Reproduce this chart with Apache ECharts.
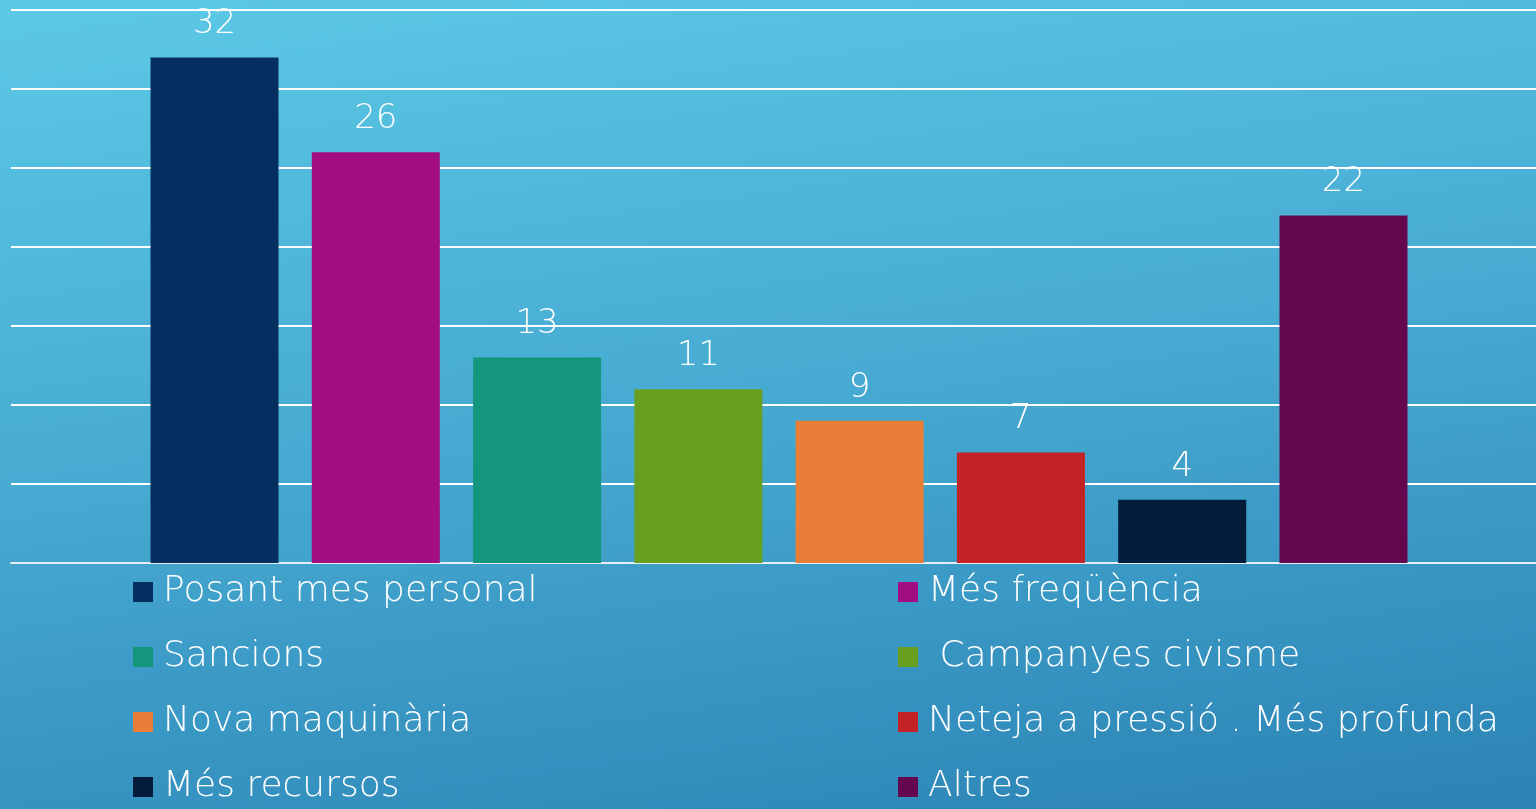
<!DOCTYPE html>
<html>
<head>
<meta charset="utf-8">
<script src="https://cdn.jsdelivr.net/npm/echarts@6/dist/echarts.min.js"></script>
<style>
  html, body { margin: 0; padding: 0; }
  body {
    width: 1536px; height: 809px; overflow: hidden;
    background: linear-gradient(172deg, #5cc9e6 0%, #46a9d1 50%, #2b83b4 100%);
  }
  #main { width: 1536px; height: 809px; }
</style>
</head>
<body>
<div id="main"></div>
<script>
// dades
const names = [
  "Posant mes personal",
  "Més freqüència",
  "Sancions",
  " Campanyes civisme",
  "Nova maquinària",
  "Neteja a pressió . Més profunda",
  "Més recursos",
  "Altres"
];
const values = [32, 26, 13, 11, 9, 7, 4, 22];
const colors = ["#052f60", "#a20d82", "#14967c", "#679f1f", "#e87e38", "#c42224", "#021c3a", "#63074e"];

const font = "DejaVu Sans";

let chart = echarts.init(document.getElementById("main"));

let series = names.map((n, i) => ({
  name: n,
  type: "bar",
  data: [values[i]],
  barWidth: 128,
  barGap: "26%",
  itemStyle: { color: colors[i] },
  label: {
    show: true,
    position: "top",
    distance: 16,
    color: "#fff",
    fontFamily: font,
    fontWeight: 200,
    fontSize: 34,
  },
}));

const legendText = {
  color: "#fff",
  fontFamily: font,
  fontWeight: 200,
  fontSize: 36,
  lineHeight: 38,
  padding: [0, 0, 0, 5],
};

let option = {
  animation: false,
  grid: { left: 11, right: -11, top: 10, bottom: 246, outerBoundsMode: "none" },
  xAxis: {
    type: "category",
    data: [""],
    axisLine: { lineStyle: { color: "#e6eef4", width: 2 } },
    axisTick: { show: false },
    axisLabel: { show: false },
  },
  yAxis: {
    type: "value",
    min: 0,
    max: 35,
    interval: 5,
    axisLine: { show: false },
    axisLabel: { show: false },
    splitLine: { lineStyle: { color: "#ffffff", width: 2 } },
  },
  legend: [
    {
      orient: "vertical",
      left: 133,
      top: 573,
      padding: 0,
      itemWidth: 20,
      itemHeight: 20,
      itemGap: 27,
      icon: "rect",
      textStyle: legendText,
      data: [names[0], names[2], names[4], names[6]],
    },
    {
      orient: "vertical",
      left: 898,
      top: 573,
      padding: 0,
      itemWidth: 20,
      itemHeight: 20,
      itemGap: 27,
      icon: "rect",
      textStyle: legendText,
      data: [names[1], names[3], names[5], names[7]],
    },
  ],
  series: series,
};

chart.setOption(option);
</script>
</body>
</html>
